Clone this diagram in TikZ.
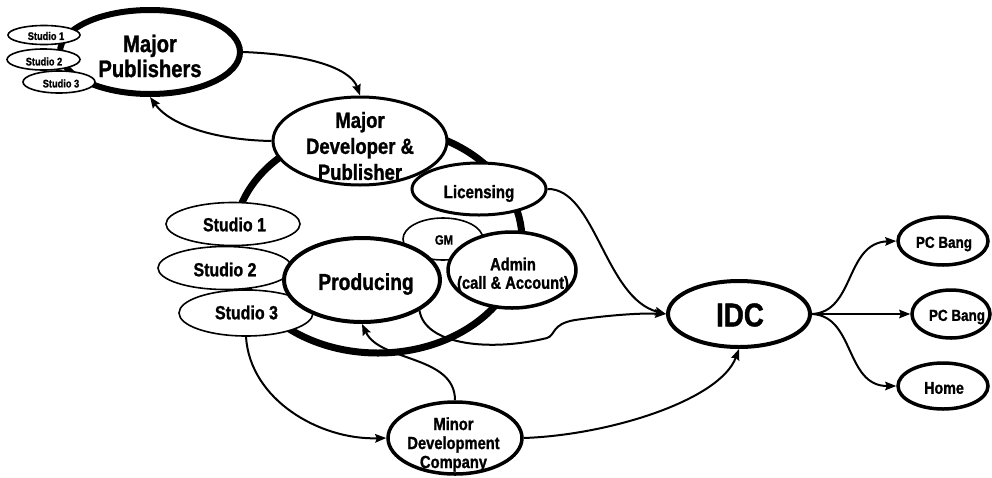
\documentclass[tikz,border=0pt]{standalone}
\usepackage{fontspec}
\setmainfont{Liberation Sans}[FakeStretch=0.84, BoldFeatures={FakeBold=1.2}]
\usetikzlibrary{shapes.geometric,arrows.meta}

\newcommand{\fs}[2]{\fontsize{#1}{#2}\selectfont\bfseries}

\tikzset{
  ell/.style={ellipse, draw, fill=white, inner sep=0pt},
  ellsize/.style 2 args={minimum width=#1, minimum height=#2},
  lbl/.style={align=center, inner sep=0pt},
  conn/.style={line width=2pt, -{Stealth[length=11pt,width=8.5pt,inset=1.5pt]}},
}

\begin{document}
\begin{tikzpicture}[x=1pt,y=-1pt]
\useasboundingbox (0,0) rectangle (992,477);

% publisher group, top left
\node[ell, ellsize={180}{84}, line width=6pt] (pub) at (150,52) {};
\node[ell, ellsize={72}{19}, line width=1.6pt] (ps1) at (44,35) {};
\node[ell, ellsize={73}{21}, line width=1.6pt] (ps2) at (43.5,59.5) {};
\node[ell, ellsize={72}{22}, line width=1.6pt] (ps3) at (59,82) {};
\node[lbl, font=\fs{24}{25}] (pub-t) at (150,56) {Major\\Publishers};
\node[lbl, font=\fs{11}{12}] (ps1-t) at (46,36) {Studio 1};
\node[lbl, font=\fs{11}{12}] (ps2-t) at (44,61.5) {Studio 2};
\node[lbl, font=\fs{11}{12}] (ps3-t) at (61,83.5) {Studio 3};

% the company ring and its parts
\node[ell, ellsize={288}{226}, line width=7pt] (corp) at (378,240) {};
\node[ell, ellsize={174}{88}, line width=3pt] (dev) at (360,141) {};
\node[lbl, font=\fs{22}{26}] (dev-t) at (360,146) {Major\\Developer \&\\Publisher};

\node[ell, ellsize={134}{43}, line width=1.6pt] (s1) at (233,224) {};
\node[ell, ellsize={134}{43}, line width=1.6pt] (s2) at (225,268) {};
\node[ell, ellsize={134}{46}, line width=1.6pt] (s3) at (246,313) {};
\node[ell, ellsize={80}{42}, line width=1.6pt] (gm) at (443,239) {};
\node[ell, ellsize={156}{84}, line width=4pt] (prod) at (362,280) {};
\node[ell, ellsize={134}{52}, line width=3pt] (lic) at (479,189) {};
\node[ell, ellsize={128}{76}, line width=3.5pt] (adm) at (512,270) {};

\node[lbl, font=\fs{19}{20}] (s1-t) at (234.5,224.5) {Studio 1};
\node[lbl, font=\fs{19}{20}] (s2-t) at (225,269.5) {Studio 2};
\node[lbl, font=\fs{19}{20}] (s3-t) at (246.5,312.5) {Studio 3};
\node[lbl, font=\fs{13.5}{14}] (gm-t) at (444,240) {GM};
\node[lbl, font=\fs{23}{24}] (prod-t) at (366,284) {Producing};
\node[lbl, font=\fs{18}{19}] (lic-t) at (479,193.5) {Licensing};
\node[lbl, font=\fs{17.5}{18.5}] (adm-t) at (513,275) {Admin\\(call \& Account)};

% outside partners and customers
\node[ell, ellsize={134}{72}, line width=3.5pt] (minor) at (455,438) {};
\node[lbl, font=\fs{17.5}{19}] (minor-t) at (453.5,444.5) {Minor\\Development\\Company};

\node[ell, ellsize={142}{66}, line width=4pt] (idc) at (739,314) {};
\node[lbl, font=\fs{33}{34}] (idc-t) at (740,315) {IDC};

\node[ell, ellsize={90}{48}, line width=3.5pt] (pc1) at (943,241) {};
\node[ell, ellsize={78}{48}, line width=3.5pt] (pc2) at (951,314) {};
\node[ell, ellsize={90}{46}, line width=3.5pt] (home) at (943,386) {};
\node[lbl, font=\fs{16}{17}] (pc1-t) at (944,244) {PC Bang};
\node[lbl, font=\fs{16}{17}] (pc2-t) at (957,317) {PC Bang};
\node[lbl, font=\fs{17}{18}] (home-t) at (944,388) {Home};

% flows
\draw[conn] (pub.east) .. controls (320,55) and (352,72) .. (dev.north);
\draw[conn] (dev.west) .. controls (215,140) and (170,125) .. (pub.south);
\draw[conn] (lic.east) .. controls (595,188) and (605,298) .. (idc.west);
\draw[conn] (prod.-28) .. controls (425,345) and (490,352) .. (547,338)
            .. controls (556,335) and (551,324) .. (575,320)
            .. controls (610,315) and (640,313) .. (idc.west);
\draw[conn] (s3.south) .. controls (250,400) and (320,440) .. (minor.west);
\draw[conn] (minor.north) .. controls (455,355) and (380,362) .. (prod.south);
\draw[conn] (minor.east) .. controls (610,435) and (720,400) .. (idc.south);
\draw[conn] (idc.east) .. controls (855,312) and (845,243) .. (pc1.west);
\draw[conn] (idc.east) -- (pc2.west);
\draw[conn] (idc.east) .. controls (855,316) and (845,386) .. (home.west);
\end{tikzpicture}
\end{document}
